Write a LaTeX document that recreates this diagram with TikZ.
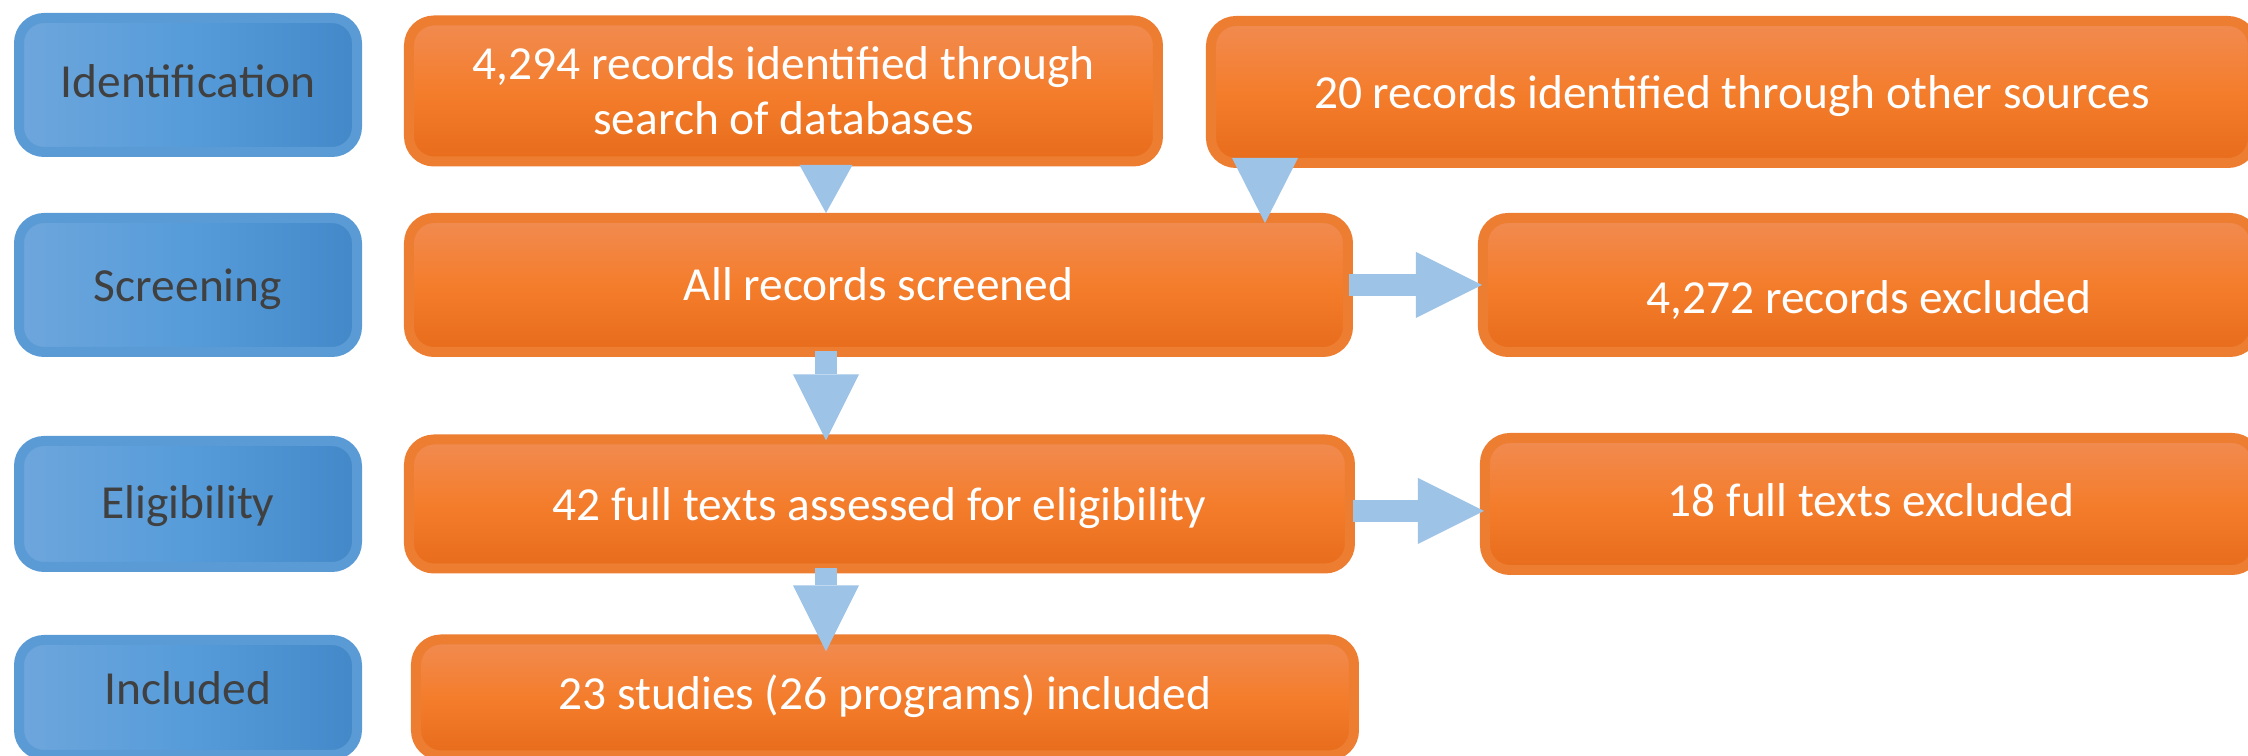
\documentclass[tikz,border=0pt]{standalone}
\usepackage{fontspec}
\setmainfont{Carlito}
\usepackage{xcolor}
\usetikzlibrary{arrows.meta,positioning}

\definecolor{phaseborder}{HTML}{5B9BD5}
\definecolor{phaseleft}{HTML}{6EA6DC}
\definecolor{phasemid}{HTML}{569CDA}
\definecolor{phaseright}{HTML}{4388C8}
\definecolor{phasetext}{HTML}{404040}
\definecolor{stepborder}{HTML}{ED7D31}
\definecolor{steptop}{HTML}{F18B51}
\definecolor{stepmid}{HTML}{F47D2C}
\definecolor{stepbot}{HTML}{E76C1B}
\definecolor{flowblue}{HTML}{9DC3E6}

\begin{document}
\begin{tikzpicture}[x=0.1mm,y=-0.1mm]
            \tikzstyle{phase} = [draw=phaseborder, line width=1mm, rounded corners=2.5mm, left color=phaseleft, right color=phaseright, middle color=phasemid, text=phasetext, minimum width=33.8mm, align=center, font=\fontsize{13.5pt}{15.6pt}\selectfont]
            \tikzstyle{stepbox} = [draw=stepborder, line width=1mm, rounded corners=2.5mm, top color=steptop, bottom color=stepbot, middle color=stepmid, text=white, align=center, font=\fontsize{13.5pt}{15.6pt}\selectfont]
            \tikzstyle{flow} = [draw=flowblue, line width=2.2mm, -{Triangle[length=6.6mm, width=6.6mm, line width=0pt]}]
            \tikzstyle{wedge} = [draw=flowblue, line width=0.1pt]
            \useasboundingbox (0,0) rectangle (2248,756);
            \clip (0,0) rectangle (2248,756);

            \node [phase, minimum height=13.4mm, text height=7.4pt, text depth=0pt] (ident) at (188,85) {Identification};
            \node [phase, minimum height=13.4mm, text height=9.6pt, text depth=0pt, below = 5.6mm of ident] (screen) {Screening};
            \node [phase, minimum height=12.6mm, text height=8pt, text depth=0pt, below = 7.9mm of screen] (elig) {Eligibility};
            \node [phase, minimum height=11.5mm, text height=4.2pt, text depth=0pt, below = 6.3mm of elig] (incl) {Included};

            \node [stepbox, minimum width=74.9mm, minimum height=14.1mm, right = 4.2mm of ident, yshift=-0.6mm] (db) {4,294 records identified through\\search of databases};
            \node [stepbox, minimum width=104.2mm, minimum height=14.2mm, text height=9.2pt, text depth=0pt, right = 4.3mm of db, yshift=-0.1mm] (other) {20 records identified through other sources};
            \node [stepbox, minimum width=93.9mm, minimum height=13.4mm, text height=8.6pt, text depth=0pt, right = 4.2mm of screen] (screened) {All records screened};
            \node [stepbox, minimum width=77.2mm, minimum height=13.4mm, text height=16pt, text depth=0pt, right = 12.5mm of screened] (excl1) {4,272 records excluded};
            \node [stepbox, minimum width=94.1mm, minimum height=12.9mm, text height=9.4pt, text depth=0pt, right = 4.2mm of elig] (full) {42 full texts assessed for eligibility};
            \node [stepbox, minimum width=77.2mm, minimum height=13.2mm, text height=7.4pt, text depth=0pt, right = 12.5mm of full] (excl2) {18 full texts excluded};
            \node [stepbox, minimum width=93.8mm, minimum height=11.6mm, text height=6.8pt, text depth=0pt, right = 4.9mm of incl] (incl23) {23 studies (26 programs) included};

            \coordinate [right = 42.2mm of screened.west] (spine);
            \coordinate [right = 5.9mm of other.south west] (side);

            \draw [wedge, -{Triangle[length=4.8mm, width=5.3mm, line width=0pt]}] (db.south -| spine) -- (screened.north -| spine);
            \draw [wedge, shorten <=-1.1mm, shorten >=-1mm, -{Triangle[length=6.5mm, width=6.6mm, line width=0pt]}] (side) -- (screened.north -| side);
            \draw [flow, shorten <=-0.6mm, shorten >=-0.6mm] (screened.south -| spine) -- (full.north -| spine);
            \draw [flow, shorten <=-0.5mm, shorten >=-1.7mm] (full.south -| spine) -- (incl23.north -| spine);
            \draw [flow, shorten <=-0.4mm, shorten >=-0.4mm] (screened.east) -- (excl1.west);
            \draw [flow, shorten <=-0.2mm, shorten >=-0.4mm] ([yshift=-0.7mm]full.east) -- ([yshift=-0.7mm]full.east -| excl2.west);
\end{tikzpicture}
\end{document}
